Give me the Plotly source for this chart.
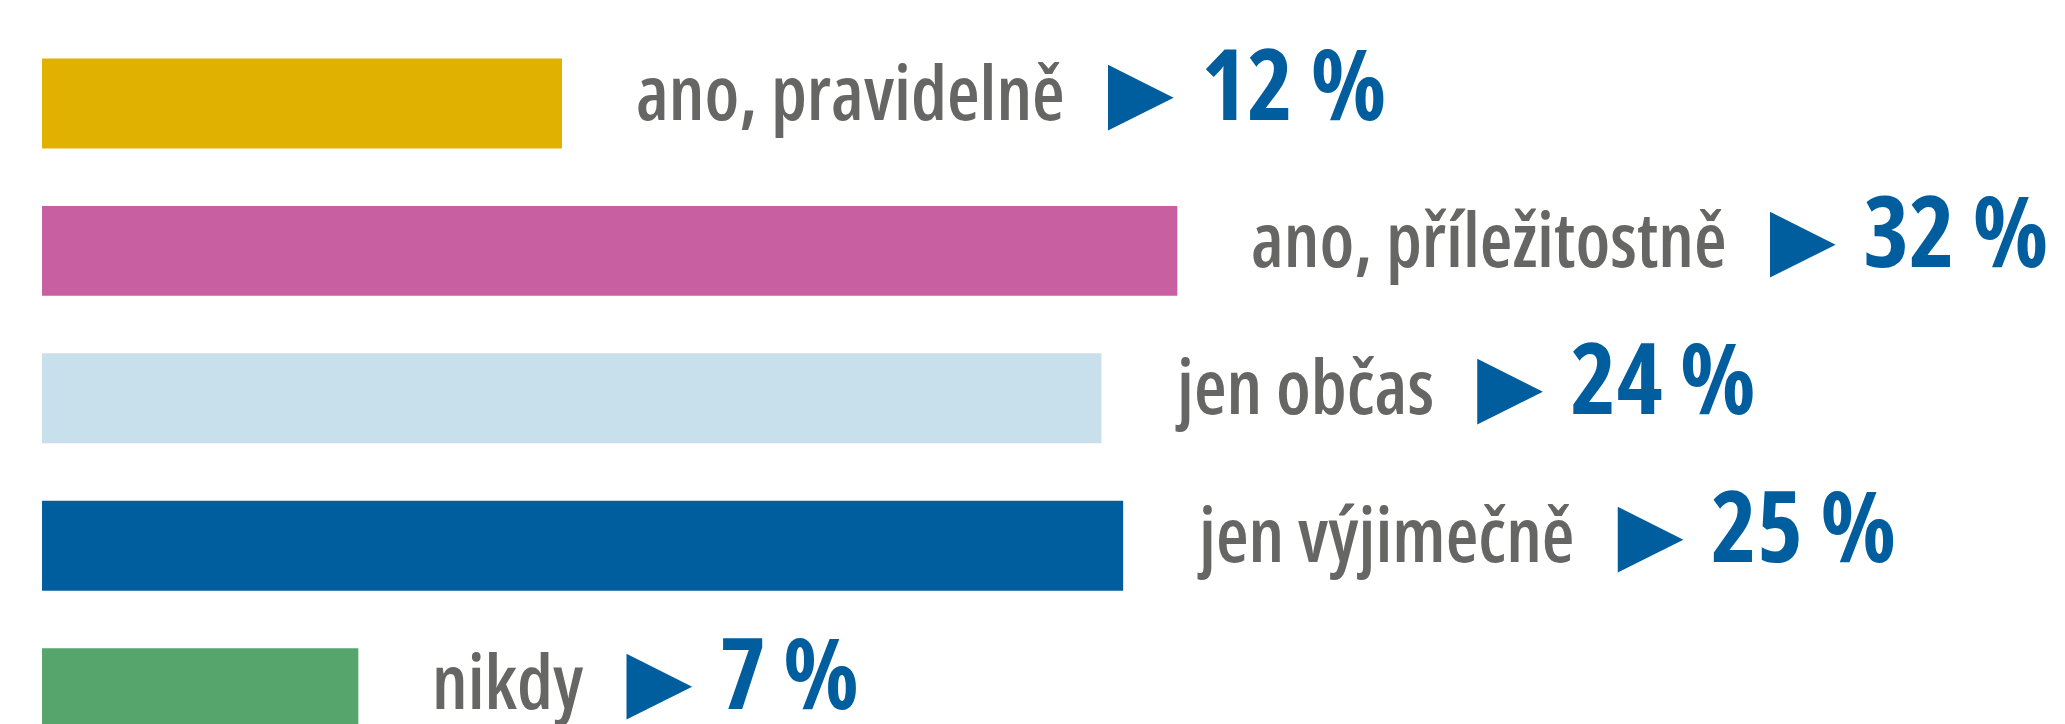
import plotly.graph_objects as go

# ---- data ----
categories = ["ano, pravidelně", "ano, příležitostně", "jen občas", "jen výjimečně", "nikdy"]
shares = [12, 32, 24, 25, 7]                       # printed percentages
bar_lengths = [12.0, 26.2, 24.45, 24.95, 7.3]      # drawn bar lengths (the 32 % bar is shortened in the original)
bar_colors = ["#E1B100", "#C75FA1", "#C8DFEC", "#005E9E", "#55A56D"]

LABEL_GRAY = "#666664"
BLUE = "#005E9E"
COND = "font-family:Open Sans;font-stretch:75%"

fig = go.Figure(
    go.Bar(
        x=bar_lengths,
        y=categories,
        orientation="h",
        width=0.61,
        marker=dict(color=bar_colors, line=dict(width=0)),
        hoverinfo="skip",
        showlegend=False,
    )
)

for cat, length, share in zip(categories, bar_lengths, shares):
    txt = (
        f'<span style="font-size:75px;color:{LABEL_GRAY};font-weight:600;{COND}">{cat}</span>'
        f'<span style="font-size:86px;color:{BLUE};font-family:DejaVu Sans">\u2002▶ </span>'
        f'<span style="font-size:98px;color:{BLUE};font-weight:700;{COND}">{share} %</span>'
    )
    fig.add_annotation(
        x=length, y=cat, xref="x", yref="y",
        text=txt, showarrow=False,
        xanchor="left", yanchor="middle",
        xshift=72, yshift=22,
        font=dict(family="Open Sans", size=75, color=LABEL_GRAY),
    )

fig.update_layout(
    width=2065, height=724,
    margin=dict(l=0, r=0, t=0, b=0),
    paper_bgcolor="white", plot_bgcolor="white",
    xaxis=dict(range=[-0.785, 46.87], visible=False, fixedrange=True),
    yaxis=dict(
        type="category", categoryorder="array", categoryarray=categories,
        range=[4.264, -0.648], visible=False, fixedrange=True,
    ),
    bargap=0.39,
)

fig.write_html("out.html", config={"displayModeBar": False})
